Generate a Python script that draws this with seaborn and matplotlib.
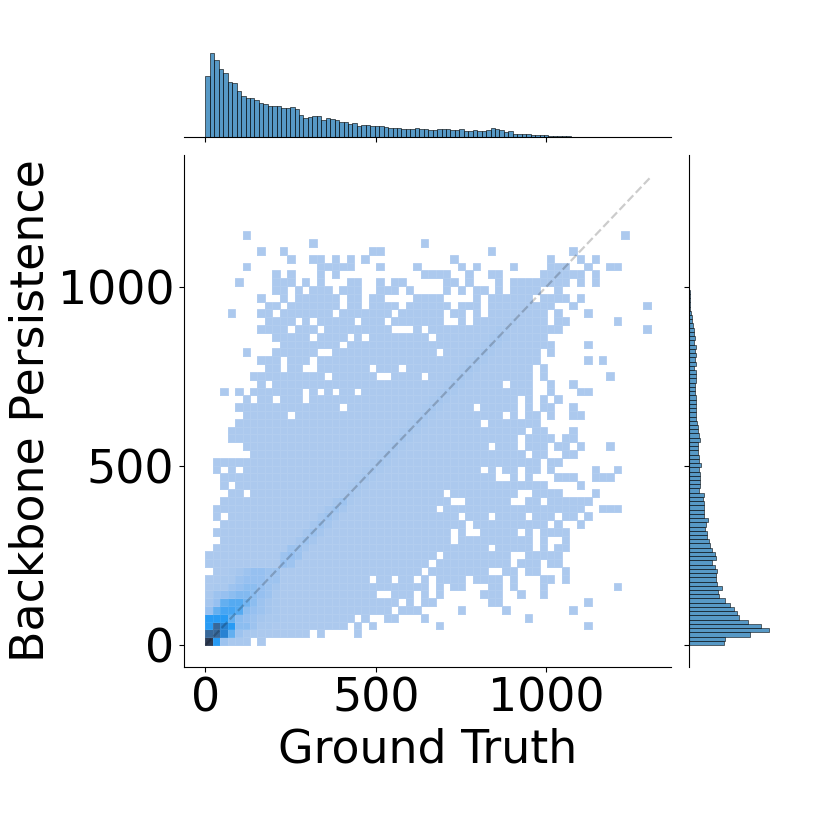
"""Joint histogram of ground truth against backbone persistence."""

import matplotlib.pyplot as plt
import numpy as np
import seaborn as sns
from matplotlib.colors import LinearSegmentedColormap


FIG_PX = 822
N_CELLS = 60
N_MARG = 100
X_MAX = 1308.0
Y_MARG_MAX = 1182.0

X_LIMITS = (-63, 1367)
Y_LIMITS = (-61.5, 1369)
TICKS = [0, 500, 1000]

X_LABEL = 'Ground Truth'
Y_LABEL = 'Backbone Persistence'

# occupied columns of each 2d cell row, bottom row first
CELL_ROWS = [
    '0-5,7',
    '0-13,15,20',
    '0-18,20,22,31,51',
    '0-19,21,24,25,29,43',
    '0-24,26,27,28,34,40,49',
    '0-25,27,29,30,38,39,51',
    '0-22,25,26,27,29,31,37,38,39,42,45',
    '0-29,31,33,34,38,39,41,45,55',
    '0-21,23,24,26,27,29,31-34,36-39,41,45,46,48',
    '1-28,30-37,40,41,43,44,48',
    '0-29,31-40,42,43,44,46,47',
    '0-30,32-40,43-47',
    '1-37,39-43,45,47,48',
    '2-32,34-43,45,48',
    '1-32,34,37-41,43,45-48',
    '2-34,36-45,47,50',
    '1,3-33,35,36,37,39-42,44,45,46,48,49,51',
    '1-30,32-50,53,54,55',
    '2-32,35-40,43,44,46-51',
    '3,4,6-31,33-41,44-47,52',
    '2,4-45,50',
    '2-38,41,43,47,48,49,52,53,54',
    '1,3,5-36,38,40,41,43,44,46,52,55',
    '1-44,46,47',
    '6-42,44,45,48,49',
    '5-37,39-41,43,44,45,47,48,50,54',
    '3-41,43-46,48,49',
    '3-42,44,45,49',
    '4-36,38-44',
    '5-10,12-39,41,43,44,46,49,50',
    '4-17,19-35,37-41,43,45,46,49',
    '5,7,8,10,11,12,14-41,43,45,47',
    '2,4,6-12,14,16,18,19,21-43,46,50,51',
    '7,9-39,41,42,43,46,49',
    '6-15,17-22,25-28,30-43,45,54',
    '8,9,11,12,15-21,23,24,25,27-43,45',
    '7,8,9,11,12,13,15-44,51,53',
    '5,9-14,17-30,32-44,46',
    '10-17,19-46,51',
    '9-13,15-18,20,22-29,31-45',
    '7-10,12,13,14,16-24,28,30-47,59',
    '8-11,13,15-19,21,22,23,25-31,34,36-45,47,48,55',
    '3,7,8,10-16,18-24,26-31,33,34,36,38-45,47,51',
    '8,9,11-17,19,20,22-25,27-32,34,35,36,38-46,49,59',
    '7,10,12-17,19,20,22,23,28-31,36,38-43,45-48,50',
    '9,10,12,14,15,16,18,19,20,23,24,25,27,32,34,36,37,39,41-44,47',
    '4,9,10,11,13,15,19,20,23,25,26,32,33,35,39,41-48,50,52',
    '9,11,15,17,29-32,35,38,39,45-50,52',
    '5,15-19,23,28,34,36,41,46,47,48,51,54,55',
    '11,14,15,17,19,21,33,46,50,52',
    '7,10,22,23,38,49',
    '14,29',
    '5,56',
]

# colour level of the cells near the origin, bottom row first
ORIGIN_LEVELS = [
    [10, 7, 2.5, 1.5, 1.5, 1.5, 0, 1, 0, 0],
    [9, 9, 8, 5, 2.5, 1.5, 1.5, 1, 1, 1],
    [7, 9, 8, 7, 3.5, 3.5, 2.5, 1.5, 1.5, 1],
    [7, 7, 7, 5, 3.5, 3, 2.5, 2, 1.5, 1.5],
    [3, 5, 6, 6, 5.5, 3.5, 3, 2.5, 2, 1.5],
    [2, 3, 5, 5.5, 5.5, 4.5, 3.5, 2.5, 2, 1.5],
    [1.5, 2.5, 3, 3.5, 4, 4, 3.5, 3, 2.5, 1.5],
    [1, 1.5, 1.5, 2.5, 3, 3.5, 3.5, 3, 2.5, 2],
    [1, 1, 1.5, 1.5, 2.5, 3, 3, 3, 2.5, 2.5],
    [0, 1, 1, 1.5, 2, 2.5, 3, 3, 2.5, 2.5],
]

# colour level along the diagonal, starting at column 10
RIDGE_MAIN = [3, 3, 2.5, 2.5, 2.5, 2.5, 2.5, 2.5, 2.5, 2, 2, 2, 2, 2, 2, 2, 2, 2,
              2, 2, 2, 2, 2, 2, 2, 2, 2, 2, 2, 2, 1.5, 1.5, 1, 1, 1, 1]
RIDGE_SIDE = [2.5, 2.5, 2, 2, 2, 2, 2, 2, 1.5, 1.5, 1.5, 1.5, 1.5, 1.5, 1.5, 1.5, 1.5, 1.5,
              1.5, 1.5, 1.5, 1.5, 1.5, 1.5, 1.5, 1.5, 1.5, 1.5, 1.5, 1.5, 1, 1, 1, 1, 1, 1]

LEVEL_COLOURS = [
    '#acc9ee', '#acc9ee', '#a5c6ee', '#96c0f0', '#82b9f0', '#64aff0',
    '#46a5f3', '#289bf5', '#2882d2', '#37699b', '#2d3c55',
]

X_MARG = [
    61, 84, 77, 68, 64, 55, 54, 46, 41, 39, 39, 37, 34, 33, 31, 31, 31, 29, 29, 30,
    28, 22, 19, 20, 21, 21, 17, 19, 18, 17, 15, 15, 13, 14, 11, 12, 12, 11.5, 11, 11,
    10, 9.5, 9, 9.5, 8.5, 8, 8, 9, 8, 8, 7, 7.5, 8, 8, 8, 7, 7, 8, 6, 6,
    7.5, 6.5, 6.5, 7, 9, 8.5, 7.5, 5.5, 6, 3.5, 3, 3.5, 3, 2.5, 2, 1.7, 1.7, 1.3, 1, 1,
    0.7, 0.7, 0.5, 0.4, 0.3, 0.2, 0.3, 0.3, 0.1, 0.1, 0, 0.1, 0, 0, 0, 0, 0, 0, 0, 0.1,
]

Y_MARG = [
    35, 35.7, 61, 80, 72, 59, 50, 48, 44.7, 41, 36, 30, 29, 33, 28, 27, 27, 27.7, 25.7, 23,
    27, 26, 23.3, 20.7, 19.7, 18.3, 17.7, 16, 16.7, 19, 15.3, 15.3, 15, 15, 14.3, 14.7, 10, 11, 11.3, 11,
    10.7, 10, 11.7, 10.3, 9.7, 8.7, 8.7, 8.7, 10.7, 10, 9, 8.7, 8.3, 6.7, 7, 7, 7, 7, 7, 6.3,
    6.3, 6.3, 6.7, 6.7, 6.7, 4.7, 6.7, 5.7, 7, 6, 6.7, 5, 5.7, 4.7, 4.7, 4, 3.3, 3, 2, 1.3,
    1, 1, 0.7, 0.7, 0.3, 0.3, 0.2, 0.2, 0.2, 0.2, 0.1, 0.1, 0.1, 0.1, 0, 0.1, 0, 0, 0, 0.1,
]


def parse_row(row: str) -> list[int]:
    cols = []
    for part in row.split(','):
        first, _, last = part.partition('-')
        cols.extend(range(int(first), int(last or first) + 1))
    return cols


def build_levels() -> np.ndarray:
    levels = np.zeros((N_CELLS, N_CELLS))
    for j, row in enumerate(CELL_ROWS):
        levels[j, parse_row(row)] = 1

    for i, (main, side) in enumerate(zip(RIDGE_MAIN, RIDGE_SIDE), start=10):
        for j, k, value in ((i, i, main), (i, i + 1, side), (i + 1, i, side)):
            if levels[j, k] > 0:
                levels[j, k] = max(levels[j, k], value)

    origin = np.array(ORIGIN_LEVELS)
    levels[: origin.shape[0], : origin.shape[1]] = origin
    return levels


def centres(low: float, high: float, count: int) -> np.ndarray:
    edges = np.linspace(low, high, count + 1)
    return (edges[:-1] + edges[1:]) / 2


def main() -> None:
    cmap = LinearSegmentedColormap.from_list('backbone', LEVEL_COLOURS)

    g = sns.JointGrid(height=FIG_PX / 100, ratio=5, space=0.2)
    g.figure.set_size_inches(FIG_PX / 100, FIG_PX / 100)
    g.figure.set_dpi(100)

    levels = build_levels()
    cell_edges = np.linspace(0, X_MAX, N_CELLS + 1)
    cell_centres = centres(0, X_MAX, N_CELLS)
    cell_x, cell_y = np.meshgrid(cell_centres, cell_centres)

    sns.histplot(
        x=cell_x.ravel(),
        y=cell_y.ravel(),
        weights=levels.ravel(),
        bins=[cell_edges, cell_edges],
        cmap=cmap,
        edgecolor=(1, 1, 1, 0.08),
        linewidth=0.4,
        ax=g.ax_joint,
    )
    sns.histplot(
        x=centres(0, X_MAX, N_MARG),
        weights=X_MARG,
        bins=N_MARG,
        binrange=(0, X_MAX),
        color='C0',
        ax=g.ax_marg_x,
    )
    sns.histplot(
        y=centres(0, Y_MARG_MAX, N_MARG),
        weights=Y_MARG,
        bins=N_MARG,
        binrange=(0, Y_MARG_MAX),
        color='C0',
        ax=g.ax_marg_y,
    )

    g.ax_joint.plot(
        [0, X_MAX], [0, X_MAX], color='black', alpha=0.2, linestyle='--', linewidth=1.6
    )

    g.ax_joint.set(xlim=X_LIMITS, ylim=Y_LIMITS, xticks=TICKS, yticks=TICKS)
    g.ax_joint.set_xlabel(X_LABEL, fontsize=33, labelpad=4)
    g.ax_joint.set_ylabel(Y_LABEL, fontsize=33, labelpad=3)
    g.ax_joint.tick_params(labelsize=33)

    g.ax_marg_x.set_ylim(0, max(X_MARG) * 1.05)
    g.ax_marg_y.set_xlim(0, max(Y_MARG) * 1.05)

    g.ax_joint.set_position(
        [184 / FIG_PX, (FIG_PX - 667) / FIG_PX, 487 / FIG_PX, 512 / FIG_PX]
    )
    g.ax_marg_x.set_position(
        [184 / FIG_PX, (FIG_PX - 137) / FIG_PX, 487 / FIG_PX, 88 / FIG_PX]
    )
    g.ax_marg_y.set_position(
        [689 / FIG_PX, (FIG_PX - 667) / FIG_PX, 84 / FIG_PX, 512 / FIG_PX]
    )

    g.figure.savefig('out.png', dpi=100)


if __name__ == '__main__':
    main()
